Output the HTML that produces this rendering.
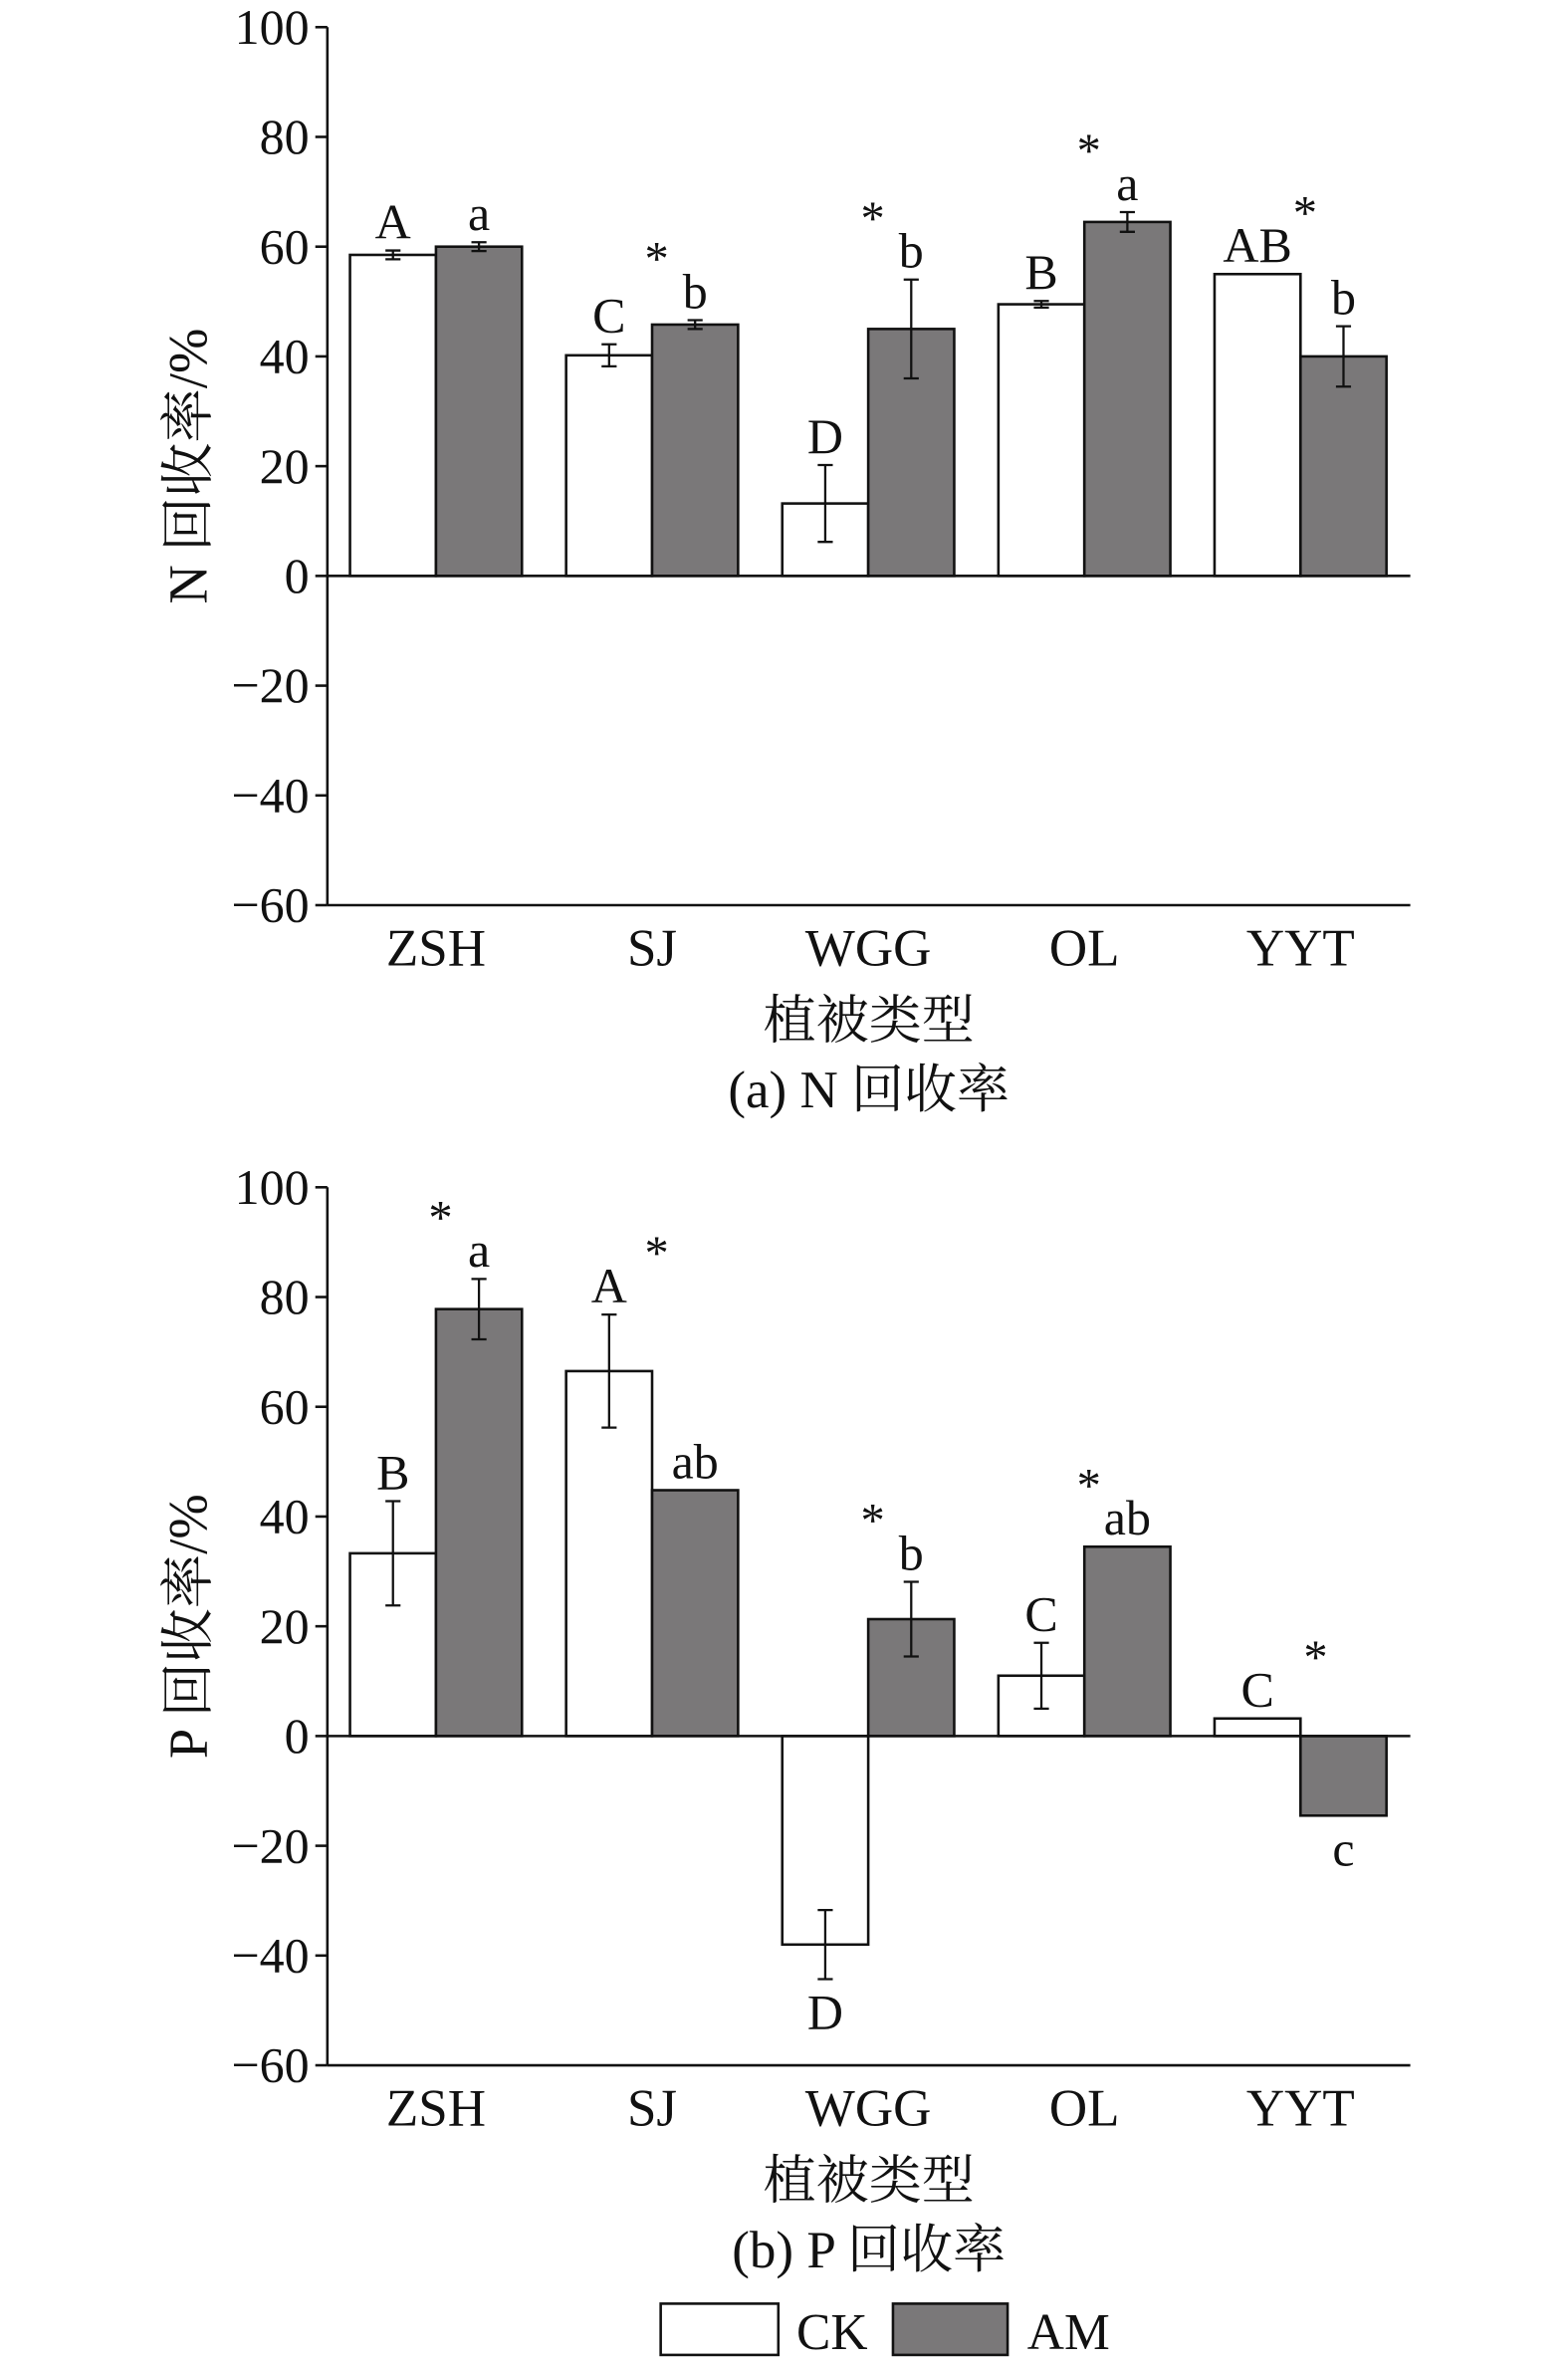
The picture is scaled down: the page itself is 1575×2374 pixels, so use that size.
<!DOCTYPE html>
<html><head><meta charset="utf-8">
<style>
html,body{margin:0;padding:0;background:#fff;}
svg{display:block;font-family:"Liberation Serif","Noto Serif CJK SC",serif;}
</style></head>
<body>
<svg id="fig" width="1575" height="2374" viewBox="0 0 1039.5 1567" xmlns="http://www.w3.org/2000/svg"></svg>
<script>
const categories = ["ZSH","SJ","WGG","OL","YYT"];
const yTicks = [100,80,60,40,20,0,-20,-40,-60];
// Panel (a) N recovery
const nCK = [58.5,40.2,13.2,49.5,55];
const nAM = [60,45.8,45,64.5,40];
const nCKerr = [0.8,2,7,0.6,0];
const nAMerr = [0.8,0.8,9,1.8,5.5];
const nCKlab = ["A","C","D","B","AB"];
const nAMlab = ["a","b","b","a","b"];
const nStar = [0,1,1,1,1];
// Panel (b) P recovery
const pCK = [33.3,66.5,-38,11,3.2];
const pAM = [77.8,44.8,21.3,34.5,-14.5];
const pCKerr = [9.5,10.3,6.3,6,0];
const pAMerr = [5.5,0,6.8,0,0];
const pCKlab = ["B","A","D","C","C"];
const pAMlab = ["a","ab","b","ab","c"];
const pStar = [1,1,1,1,1];

const NS="http://www.w3.org/2000/svg";
const svg=document.getElementById('fig');
function mk(tag,attrs,parent){const e=document.createElementNS(NS,tag);for(const k in attrs)e.setAttribute(k,attrs[k]);(parent||svg).appendChild(e);return e;}

function panel(cfg){
  const g=mk('g',{});
  
  
  const x0=217,x1=935,yTop=cfg.top,yBot=cfg.top+582;
  const y=v=>yTop+(100-v)*(582/160);
  const cx=i=>289+i*143.3;
  const bw=57;
  for(let i=0;i<categories.length;i++){
    [[cfg.ck,cfg.ckErr,cfg.ckLab,'#fff',-1,'ck'],[cfg.am,cfg.amErr,cfg.amLab,'#7a7879',0,'am']].forEach(([vals,errs,labs,fill,off,s])=>{
      const v=vals[i],e=errs[i];
      const bx=cx(i)+off*bw;
      const r=mk('rect',{x:bx,y:Math.min(y(v),y(0)),width:bw,height:Math.abs(y(v)-y(0)),fill:fill,stroke:'#111','stroke-width':1.7},g);
      
      
      const m=bx+bw/2;
      if(e>0){
        const eb=mk('path',{d:`M${m},${y(v+e)}V${y(v-e)}M${m-5},${y(v+e)}H${m+5}M${m-5},${y(v-e)}H${m+5}`,stroke:'#111','stroke-width':1.5,fill:'none'},g);
        
        
      }
      let ly;
      if(v>=0) ly=y(v+e)-8; else ly=y(v-e)+33;
      const t=mk('text',{x:m,y:ly,'text-anchor':'middle','font-size':33,fill:'#111'},g);
      t.textContent=labs[i];
      
      
    });
    if(cfg.star[i]){
      let topv=Math.max(cfg.ck[i]+cfg.ckErr[i],cfg.am[i]+cfg.amErr[i],0);
      const st=mk('text',{x:cx(i)+(cfg.am[i]<0?10:3),y:y(topv)-30,'text-anchor':'middle','font-size':32,fill:'#111'},g);
      st.textContent='*';
      
      
    }
  }
  mk('line',{x1:x0,y1:y(0),x2:x1,y2:y(0),stroke:'#111','stroke-width':1.7},g);
  mk('line',{x1:x0,y1:yBot,x2:x1,y2:yBot,stroke:'#111','stroke-width':1.7},g);
  mk('line',{x1:x0,y1:yTop,x2:x0,y2:yBot,stroke:'#111','stroke-width':1.7},g);
  yTicks.forEach(v=>{
    mk('line',{x1:x0-8,y1:y(v),x2:x0,y2:y(v),stroke:'#111','stroke-width':1.7},g);
    const t=mk('text',{x:x0-12,y:y(v)+11,'text-anchor':'end','font-size':33,fill:'#111'},g);
    t.textContent=v<0?'\u2212'+(-v):String(v);
    
    
  });
  categories.forEach((c,i)=>{
    const t=mk('text',{x:cx(i),y:yBot+40,'text-anchor':'middle','font-size':35,fill:'#111'},g);
    t.textContent=c;
    
    
  });
  const yt=mk('text',{x:0,y:0,'text-anchor':'middle','font-size':36,fill:'#111',transform:`translate(137,${(yTop+yBot)/2}) rotate(-90)`},g);
  yt.textContent=cfg.ytitle;
  
  
  const xt=mk('text',{x:576,y:yBot+88,'text-anchor':'middle','font-size':35,fill:'#111'},g);
  xt.textContent='植被类型';
  
  
  const ct=mk('text',{x:576,y:yBot+134,'text-anchor':'middle','font-size':35,fill:'#111'},g);
  ct.textContent=cfg.caption;
  
  
}
panel({name:'chart-n-recovery',top:18,ck:nCK,am:nAM,ckErr:nCKerr,amErr:nAMerr,ckLab:nCKlab,amLab:nAMlab,star:nStar,ytitle:'N 回收率/%',caption:'(a) N 回收率'});
panel({name:'chart-p-recovery',top:787,ck:pCK,am:pAM,ckErr:pCKerr,amErr:pAMerr,ckLab:pCKlab,amLab:pAMlab,star:pStar,ytitle:'P 回收率/%',caption:'(b) P 回收率'});
const lg=mk('g',{});


mk('rect',{x:438,y:1527,width:78,height:34,fill:'#fff',stroke:'#111','stroke-width':1.7},lg);
const l1=mk('text',{x:528,y:1557,'font-size':34,fill:'#111'},lg);l1.textContent='CK';


mk('rect',{x:592,y:1527,width:76,height:34,fill:'#7a7879',stroke:'#111','stroke-width':1.7},lg);
const l2=mk('text',{x:681,y:1557,'font-size':34,fill:'#111'},lg);l2.textContent='AM';


</script>
</body></html>
